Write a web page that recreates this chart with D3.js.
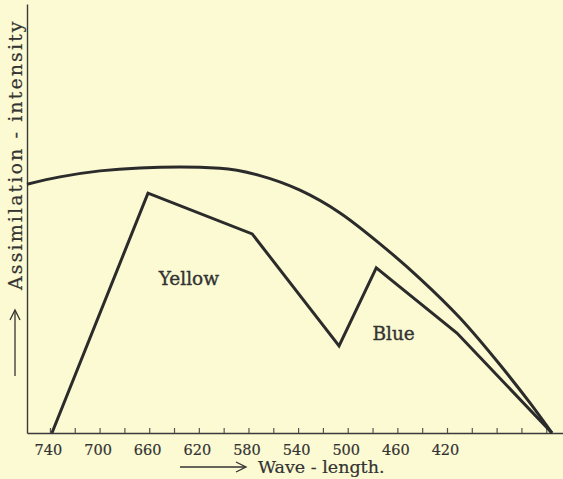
<!DOCTYPE html>
<html>
<head>
<meta charset="utf-8">
<script src="https://cdn.jsdelivr.net/npm/d3@7"></script>
<style>
  html, body { margin: 0; padding: 0; background: #fcfad2; }
  svg { display: block; }
</style>
</head>
<body>
<svg id="chart" width="563" height="479"></svg>
<script>
// ---- data ----
const upperWavelengths = [758.5, 731.9, 699.7, 667.5, 635.2, 603.0, 570.7, 538.5, 506.2, 474.0, 441.8, 409.5, 377.3, 353.1, 335.4];
const upperValues      = [58.0, 59.7, 61.1, 61.8, 62.0, 61.7, 60.0, 56.6, 51.3, 44.1, 36.0, 26.8, 15.9, 7.0, 0];

const lowerWavelengths = [738.4, 661, 577, 507, 477, 412, 335.4];
const lowerValues      = [0, 55.9, 46.4, 20.3, 38.5, 23.3, 0];

const tickWavelengths  = d3.range(740, 339, -20);
const labelWavelengths = [740, 700, 660, 620, 580, 540, 500, 460, 420];

const regionLabels = [
  { text: "Yellow", wl: 628, v: 34.5 },
  { text: "Blue",   wl: 463, v: 21.7 }
];

// ---- layout ----
const svg = d3.select("#chart");
const ink = "#2b2b2b";
const serif = "'DejaVu Serif', 'Liberation Serif', serif";

const x = d3.scaleLinear().domain([758.5, 326.5]).range([27, 563]);
const y = d3.scaleLinear().domain([0, 100]).range([433, 4]);

svg.append("rect").attr("width", 563).attr("height", 479).attr("fill", "#fcfad2");

// x axis
const xAxis = d3.axisBottom(x)
  .tickValues(tickWavelengths)
  .tickSize(-5)
  .tickSizeOuter(0)
  .tickPadding(12)
  .tickFormat(d => labelWavelengths.includes(d) ? d : "");
const gx = svg.append("g").attr("transform", "translate(0,433)").call(xAxis);
gx.select(".domain").attr("stroke", "#3a3a3a").attr("stroke-width", 1.6);
gx.selectAll(".tick line").attr("stroke", "#555").attr("stroke-width", 1.2);
gx.selectAll(".tick text")
  .attr("fill", "#333")
  .attr("font-family", serif)
  .attr("font-size", 14.5)
  .attr("stroke", "#333")
  .attr("stroke-width", 0.2)
  .attr("dx", -2);

// y axis (plain line)
const yAxis = d3.axisLeft(y).tickValues([]).tickSizeOuter(0);
const gy = svg.append("g").attr("transform", "translate(27,0)").call(yAxis);
gy.select(".domain").attr("stroke", "#3a3a3a").attr("stroke-width", 1.4);

// curves
const upper = upperWavelengths.map((w, i) => [w, upperValues[i]]);
const lower = lowerWavelengths.map((w, i) => [w, lowerValues[i]]);

svg.append("path")
  .datum(upper)
  .attr("fill", "none")
  .attr("stroke", ink)
  .attr("stroke-width", 3)
  .attr("d", d3.line().x(d => x(d[0])).y(d => y(d[1])).curve(d3.curveMonotoneX));

svg.append("path")
  .datum(lower)
  .attr("fill", "none")
  .attr("stroke", ink)
  .attr("stroke-width", 3)
  .attr("stroke-linejoin", "miter")
  .attr("d", d3.line().x(d => x(d[0])).y(d => y(d[1])));

// region labels
svg.selectAll("text.region")
  .data(regionLabels)
  .enter().append("text")
  .attr("class", "region")
  .attr("x", d => x(d.wl))
  .attr("y", d => y(d.v))
  .attr("text-anchor", "middle")
  .attr("font-family", serif)
  .attr("font-size", 18.5)
  .attr("fill", "#333")
  .attr("stroke", "#333")
  .attr("stroke-width", 0.35)
  .text(d => d.text);

// x axis title with arrow
svg.append("text")
  .attr("x", 258)
  .attr("y", 473)
  .attr("font-family", serif)
  .attr("font-size", 17.5)
  .attr("fill", "#333")
  .attr("stroke", "#333")
  .attr("stroke-width", 0.2)
  .text("Wave - length.");
svg.append("line").attr("x1", 180).attr("y1", 467).attr("x2", 245).attr("y2", 467)
  .attr("stroke", "#333").attr("stroke-width", 1.3);
svg.append("path").attr("d", "M236,462 L246,467 L236,472")
  .attr("fill", "none").attr("stroke", "#333").attr("stroke-width", 1.3);

// y axis title with arrow
svg.append("text")
  .attr("transform", "translate(22,290) rotate(-90)")
  .attr("font-family", serif)
  .attr("font-size", 19)
  .attr("letter-spacing", 2.1)
  .attr("fill", "#333")
  .attr("stroke", "#333")
  .attr("stroke-width", 0.2)
  .text("Assimilation - intensity");
svg.append("line").attr("x1", 15).attr("y1", 376).attr("x2", 15).attr("y2", 311)
  .attr("stroke", "#333").attr("stroke-width", 1.3);
svg.append("path").attr("d", "M10,320 L15,310 L20,320")
  .attr("fill", "none").attr("stroke", "#333").attr("stroke-width", 1.3);
</script>
</body>
</html>
